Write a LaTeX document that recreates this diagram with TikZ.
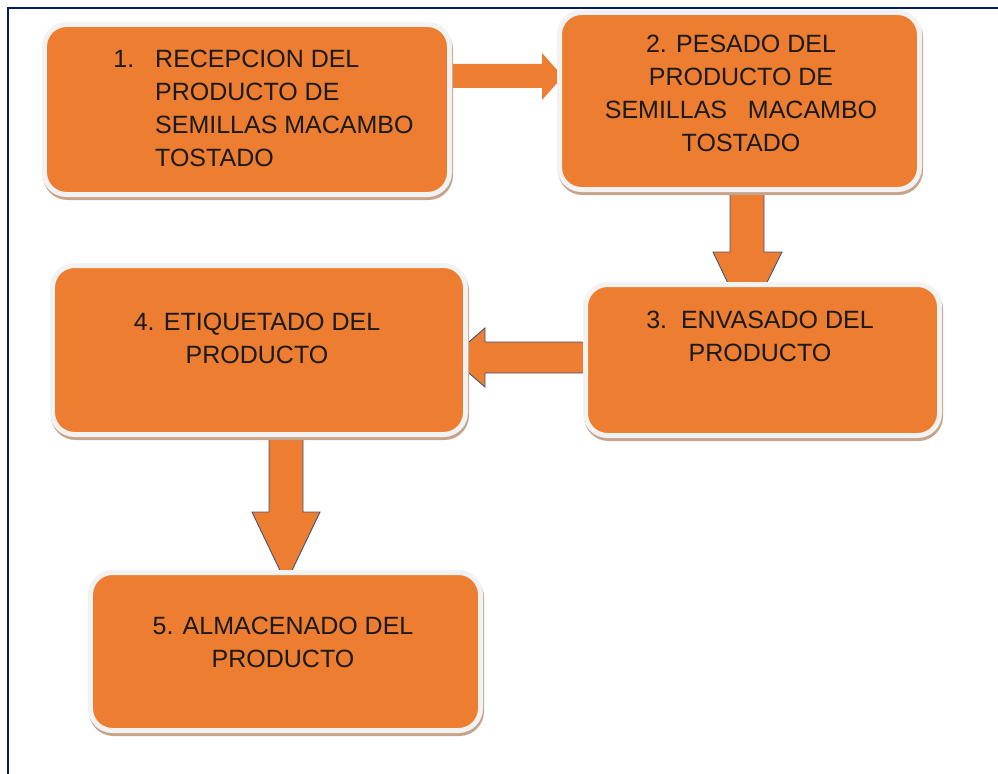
\documentclass[tikz,border=0pt]{standalone}
\usepackage{fontspec}
\setmainfont{Liberation Sans}
\definecolor{boxorange}{HTML}{ED7D31}
\definecolor{rimgray}{HTML}{F2F2F2}
\definecolor{shadowbrown}{HTML}{C6A48C}
\definecolor{framenavy}{HTML}{002060}
\definecolor{arrowline}{HTML}{43527A}
\definecolor{txt}{HTML}{1A1A1A}
\tikzset{
  stepbox/.style={rounded corners=22bp, fill=boxorange, draw=rimgray, line width=5bp,
    inner sep=0pt, outer sep=0pt,
    preaction={draw=shadowbrown, fill=shadowbrown, transform canvas={xshift=1bp,yshift=-3bp}}},
  steptext/.style={font=\fontsize{25bp}{33bp}\selectfont, text=txt, inner sep=0pt, anchor=north},
  blockarrow/.style={fill=boxorange, draw=arrowline, line width=0.9bp, line join=miter},
  plainarrow/.style={fill=boxorange, draw=none},
  frameline/.style={draw=framenavy, line width=2bp}
}
\begin{document}
\begin{tikzpicture}[x=1bp,y=-1bp]
\useasboundingbox (0,0) rectangle (998,774);
% frame
\coordinate (fa) at (8,774);
\coordinate (fb) at (8,8);
\coordinate (fc) at (998,8);
\draw[frameline] (fa) -- (fb) -- (fc);
% block arrows (drawn under the boxes)
\path[plainarrow] (450,64) -- (542,64) -- (542,53) -- (563,76.5) -- (542,100) -- (542,88) -- (450,88) -- cycle;
\path[blockarrow] (730,190) -- (764,190) -- (764,252) -- (782,252) -- (747,323) -- (713,252) -- (730,252) -- cycle;
\path[blockarrow] (592,342) -- (485,342) -- (485,328) -- (451,357.5) -- (485,387) -- (485,373) -- (592,373) -- cycle;
\path[blockarrow] (269,430) -- (303,430) -- (303,512) -- (320,512) -- (286,583) -- (252,512) -- (269,512) -- cycle;
% boxes
\node[stepbox, minimum width=405bp, minimum height=170bp] (b1) at (247,109.5) {};
\node[stepbox, minimum width=360bp, minimum height=177bp] (b2) at (739.5,101) {};
\node[stepbox, minimum width=354bp, minimum height=151bp] (b3) at (762.5,360) {};
\node[stepbox, minimum width=413bp, minimum height=169bp] (b4) at (259,350) {};
\node[stepbox, minimum width=390bp, minimum height=158bp] (b5) at (285.5,651.5) {};
% texts
\node[steptext, anchor=north west, align=left] (t1) at (155,50)
  {\llap{1.\hspace{21bp}}RECEPCION DEL\\PRODUCTO DE\\SEMILLAS MACAMBO\\TOSTADO};
\node[steptext, align=center] (t2) at (741,35)
  {2. PESADO DEL\\PRODUCTO DE\\SEMILLAS\ \ \ MACAMBO\\TOSTADO};
\node[steptext, align=center] (t3) at (760,311)
  {3.\ \ ENVASADO DEL\\PRODUCTO};
\node[steptext, align=center] (t4) at (257,313)
  {4. ETIQUETADO DEL\\PRODUCTO};
\node[steptext, align=center] (t5) at (283,617)
  {5. ALMACENADO DEL\\PRODUCTO};
\end{tikzpicture}
\end{document}
